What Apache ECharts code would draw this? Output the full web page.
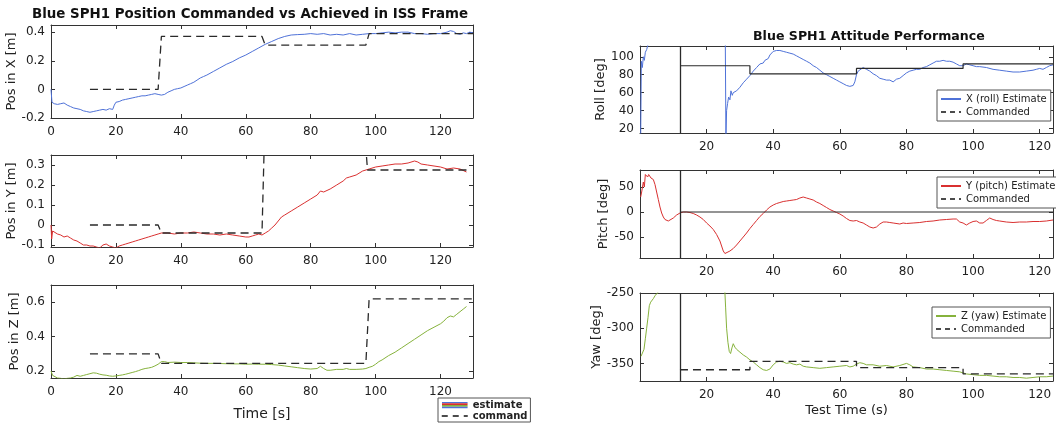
<!DOCTYPE html>
<html><head><meta charset="utf-8">
<script src="https://cdn.jsdelivr.net/npm/echarts@6/dist/echarts.min.js"></script>
<style>html,body{margin:0;padding:0;background:#fff}#c{width:1056px;height:426px}</style>
</head><body><div id="c"></div>
<script>
// ---------------- DATA ----------------
const leftTitle = 'Blue SPH1 Position Commanded vs Achieved in ISS Frame';
const rightTitle = 'Blue SPH1 Attitude Performance';
const timeTicksLeft = [0, 20, 40, 60, 80, 100, 120];
const timeTicksRight = [20, 40, 60, 80, 100, 120];
const posXTicks = [-0.2, 0, 0.2, 0.4];
const posYTicks = [-0.1, 0, 0.1, 0.2, 0.3];
const posZTicks = [0.2, 0.4, 0.6];
const rollTicks = [20, 40, 60, 80, 100];
const pitchTicks = [-50, 0, 50];
const yawTicks = [-350, -300, -250];
const testStart = 12;

// position estimates [time s, metres]
const estX = [[0,0.0],[0.3,-0.09],[1,-0.1],[2,-0.105],[3,-0.1],[4,-0.095],[5,-0.11],[6,-0.12],[7,-0.13],[8,-0.135],[9,-0.14],[10,-0.15],[11,-0.155],[12,-0.16],[13,-0.155],[14,-0.15],[15,-0.145],[16,-0.14],[17,-0.145],[18,-0.135],[19,-0.14],[19.5,-0.11],[20,-0.09],[21,-0.085],[22,-0.075],[23,-0.07],[24,-0.065],[25,-0.06],[26,-0.055],[27,-0.05],[28,-0.045],[29,-0.045],[30,-0.04],[31,-0.035],[32,-0.03],[33,-0.035],[34,-0.04],[35,-0.035],[36,-0.02],[37,-0.01],[38,0.0],[39,0.005],[40,0.01],[41,0.02],[42,0.03],[43,0.04],[44,0.05],[45,0.065],[46,0.08],[47,0.09],[48,0.1],[50,0.125],[52,0.15],[54,0.175],[56,0.195],[58,0.22],[60,0.24],[62,0.265],[64,0.29],[66,0.315],[68,0.335],[70,0.355],[72,0.37],[74,0.38],[76,0.383],[78,0.385],[80,0.39],[82,0.385],[84,0.39],[86,0.38],[88,0.385],[90,0.38],[92,0.39],[94,0.38],[96,0.385],[98,0.39],[100,0.39],[102,0.395],[104,0.4],[106,0.395],[108,0.4],[110,0.4],[112,0.39],[114,0.39],[116,0.385],[118,0.39],[120,0.39],[122,0.4],[123,0.41],[124,0.405],[125,0.39],[126,0.385],[127,0.395],[128,0.39],[129,0.4],[130,0.395]];
const cmdX = [[12,0],[33,0],[34,0.37],[65,0.37],[66,0.31],[97,0.31],[98,0.39],[130,0.39]];

const estY = [[0,0.0],[0.2,-0.07],[0.5,-0.03],[1,-0.04],[2,-0.045],[3,-0.05],[4,-0.06],[5,-0.055],[6,-0.065],[7,-0.075],[8,-0.08],[9,-0.09],[10,-0.1],[11,-0.1],[12,-0.105],[13,-0.105],[14,-0.11],[15,-0.115],[16,-0.1],[17,-0.095],[18,-0.105],[19,-0.11],[20,-0.115],[21,-0.105],[22,-0.1],[23,-0.095],[24,-0.09],[25,-0.085],[26,-0.08],[27,-0.075],[28,-0.07],[29,-0.065],[30,-0.06],[31,-0.055],[32,-0.05],[33,-0.045],[34,-0.04],[36,-0.04],[38,-0.045],[40,-0.04],[42,-0.04],[44,-0.035],[46,-0.04],[48,-0.045],[50,-0.045],[52,-0.05],[54,-0.045],[56,-0.05],[58,-0.055],[60,-0.06],[61,-0.06],[62,-0.055],[63,-0.05],[64,-0.045],[65,-0.05],[66,-0.04],[67,-0.03],[68,-0.015],[69,0.0],[70,0.02],[71,0.04],[72,0.05],[74,0.07],[76,0.09],[78,0.11],[80,0.13],[82,0.15],[83,0.17],[84,0.165],[86,0.18],[88,0.2],[90,0.22],[91,0.235],[92,0.24],[94,0.25],[96,0.27],[98,0.28],[100,0.29],[102,0.295],[104,0.3],[106,0.305],[108,0.305],[110,0.31],[112,0.32],[113,0.315],[114,0.305],[116,0.3],[118,0.295],[120,0.29],[122,0.28],[124,0.285],[126,0.28],[128,0.265]];
const cmdY = [[12,0],[33,0],[34,-0.04],[65,-0.04],[66,0.6],[96,0.6],[97.5,0.275],[128,0.275]];

const estZ = [[0,0.2],[0.5,0.175],[1,0.165],[2,0.16],[3,0.158],[4,0.155],[5,0.158],[6,0.16],[7,0.165],[8,0.175],[9,0.17],[10,0.175],[11,0.18],[12,0.185],[13,0.19],[14,0.188],[15,0.182],[16,0.178],[17,0.176],[18,0.172],[19,0.17],[20,0.172],[21,0.175],[22,0.178],[23,0.182],[24,0.187],[25,0.192],[26,0.197],[27,0.203],[28,0.21],[29,0.215],[30,0.218],[31,0.222],[32,0.23],[33,0.24],[34,0.255],[35,0.255],[36,0.25],[38,0.252],[40,0.25],[42,0.25],[44,0.248],[46,0.246],[48,0.245],[50,0.245],[52,0.244],[54,0.243],[56,0.242],[58,0.242],[60,0.24],[62,0.241],[64,0.24],[66,0.24],[68,0.238],[70,0.235],[72,0.23],[74,0.225],[76,0.22],[78,0.215],[80,0.212],[82,0.215],[83,0.228],[84,0.215],[85,0.205],[86,0.205],[88,0.21],[90,0.21],[91,0.215],[92,0.21],[94,0.21],[96,0.212],[97,0.215],[98,0.222],[99,0.228],[100,0.24],[101,0.255],[102,0.265],[104,0.29],[106,0.31],[108,0.335],[110,0.36],[112,0.385],[114,0.41],[116,0.435],[118,0.455],[120,0.475],[121,0.49],[122,0.51],[123,0.52],[124,0.515],[125,0.53],[126,0.545],[127,0.56],[128,0.575],[128.5,0.58]];
const cmdZ = [[12,0.3],[33,0.3],[34,0.245],[97,0.245],[98,0.62],[130,0.62]];

// attitude estimates [test time s, degrees]
const estRoll = [[0.2,10],[0.4,95],[0.7,88],[1.0,100],[1.3,96],[1.6,105],[2.0,108],[2.5,115],null,[25.6,125],[25.8,10],[26.0,40],[26.3,48],[26.6,55],[27,52],[27.3,62],[27.7,57],[28,60],[28.5,58],[29,62],[30,66],[31,71],[32,75],[33,79],[34,84],[35,88],[36,92],[37,93],[37.5,96],[38,94],[38.5,98],[39,102],[40,106],[41,107],[42,107],[43,106],[44,105],[45,104],[46,103],[47,101],[48,99],[49,97],[50,95],[51,93],[52,90],[53,88],[54,85],[55,82],[56,80],[57,78],[58,76],[59,74],[60,72],[61,70],[62,68],[62.5,69],[63,67],[64,68],[64.5,72],[65,80],[65.5,84],[66,86],[67,88],[68,86],[69,84],[70,81],[71,79],[72,76],[73,75],[74,74],[75,74],[76,72],[77,75],[78,76],[79,79],[80,82],[81,84],[82,85],[83,86],[84,86],[85,88],[86,89],[87,91],[88,93],[89,95],[90,95],[91,96],[92,95],[93,95],[94,94],[95,92],[96,90],[97,90],[98,92],[99,91],[100,90],[101,89],[102,89],[104,88],[106,86],[108,85],[110,84],[112,83],[114,83],[116,84],[118,85],[119,86],[120,87],[121,86],[122,88],[123,90],[124,91]];
const cmdRoll = [[12,90],[33,90],[33,81],[65,81],[65,87],[97,87],[97,92],[124,92]];

const estPitch = [[0.2,30],[0.5,40],[1,60],[1.3,50],[1.6,75],[2,78],[2.3,70],[2.6,75],[3,72],[3.3,68],[3.6,72],[4,65],[4.5,55],[5,40],[5.5,25],[6,10],[6.5,-2],[7,-10],[7.5,-15],[8,-18],[8.5,-18],[9,-16],[10,-12],[11,-6],[12,-2],[13,0],[14,0],[15,-1],[16,-3],[17,-6],[18,-10],[19,-15],[20,-22],[21,-28],[22,-35],[23,-45],[24,-58],[24.5,-68],[25,-78],[25.5,-83],[26,-82],[27,-78],[28,-73],[29,-66],[30,-58],[31,-50],[32,-42],[33,-33],[34,-25],[35,-17],[36,-9],[37,-3],[38,4],[39,10],[40,14],[41,17],[42,19],[43,21],[44,22],[45,23],[46,24],[47,25],[48,28],[49,30],[50,28],[51,26],[52,24],[53,20],[54,17],[55,13],[56,9],[57,5],[58,2],[59,-1],[60,-4],[61,-8],[62,-13],[63,-17],[64,-18],[65,-17],[66,-20],[67,-22],[68,-26],[69,-30],[70,-32],[71,-30],[72,-24],[73,-20],[74,-20],[75,-21],[76,-22],[78,-24],[79,-22],[80,-23],[82,-22],[84,-21],[86,-19],[88,-18],[90,-16],[92,-15],[94,-14],[95,-14],[96,-20],[97,-22],[98,-26],[99,-22],[100,-19],[101,-18],[102,-22],[103,-22],[104,-17],[105,-12],[106,-15],[107,-17],[108,-18],[110,-20],[112,-21],[114,-20],[116,-20],[118,-19],[120,-19],[122,-18],[124,-16]];
const cmdPitch = [[12,0],[124,0]];

const estYaw = [[0.3,-340],[0.8,-338],[1.2,-330],[1.6,-315],[2,-300],[2.4,-285],[2.8,-268],[3.2,-263],[3.6,-262],[4,-258],[4.5,-254],[5,-251],[5.5,-249],null,[25.4,-240],[25.7,-270],[26,-300],[26.4,-320],[26.8,-333],[27.2,-336],[27.6,-328],[28,-322],[28.5,-327],[29,-330],[30,-334],[31,-338],[32,-341],[33,-345],[34,-348],[35,-352],[36,-356],[37,-359],[38,-360],[39,-358],[40,-352],[41,-348],[42,-347],[43,-348],[44,-350],[45,-349],[46,-351],[47,-352],[48,-351],[49,-354],[50,-355],[52,-356],[54,-357],[56,-356],[58,-355],[60,-354],[62,-353],[63,-355],[64,-354],[65,-351],[66,-349],[67,-350],[68,-352],[70,-352],[72,-354],[74,-353],[76,-355],[78,-353],[80,-350],[81,-352],[82,-355],[84,-356],[86,-358],[88,-358],[90,-359],[92,-360],[94,-361],[96,-362],[98,-365],[100,-366],[102,-367],[104,-367],[106,-368],[108,-369],[110,-369],[112,-370],[114,-370],[116,-371],[118,-370],[120,-369],[122,-369],[124,-368]];
const cmdYaw = [[12,-359],[33,-359],[33,-347],[65,-347],[65,-356],[97,-356],[97,-365],[124,-365]];

// ---------------- STYLE / LAYOUT ----------------
const FONT = 'DejaVu Sans';
const BLUE = '#4f72d8', RED = '#d93030', GREEN = '#86b23c', CMD = '#2a2a2a', AX = '#333';

const panels = [
  {grid:{left:51, top:25, width:422, height:93}, xr:[0,130], yr:[-0.2,0.45], xt:timeTicksLeft, yt:posXTicks, yname:'Pos in X [m]', ygap:30},
  {grid:{left:51, top:155, width:422, height:92}, xr:[0,130], yr:[-0.11,0.35], xt:timeTicksLeft, yt:posYTicks, yname:'Pos in Y [m]', ygap:30},
  {grid:{left:51, top:285, width:422, height:93}, xr:[0,130], yr:[0.16,0.7], xt:timeTicksLeft, yt:posZTicks, yname:'Pos in Z [m]', ygap:30, xname:'Time [s]', xgap:29},
  {grid:{left:640, top:46, width:413, height:87}, xr:[0,124], yr:[15,112], xt:timeTicksRight, yt:rollTicks, yname:'Roll [deg]', ygap:26},
  {grid:{left:640, top:170, width:413, height:88}, xr:[0,124], yr:[-92,84], xt:timeTicksRight, yt:pitchTicks, yname:'Pitch [deg]', ygap:26},
  {grid:{left:640, top:293, width:413, height:88}, xr:[0,124], yr:[-375,-250], xt:timeTicksRight, yt:yawTicks, yname:'Yaw [deg]', ygap:31, xname:'Test Time (s)', xgap:23}
];

const grids = [], xAxes = [], yAxes = [];
panels.forEach((p, i) => {
  grids.push(Object.assign({show:false}, p.grid));
  const line = {show:true, onZero:false, lineStyle:{color:AX, width:1}};
  const tick = (vals) => ({show:true, inside:true, length:4, customValues:vals, lineStyle:{color:AX}});
  const lab = (vals, show) => ({show, customValues:vals, fontFamily:FONT, fontSize:12, color:'#222', margin:6});
  xAxes.push({type:'value', gridIndex:i, position:'bottom', min:p.xr[0], max:p.xr[1],
    axisLine:line, axisTick:tick(p.xt), axisLabel:Object.assign(lab(p.xt,true),{margin:8}), splitLine:{show:false},
    name:p.xname||'', nameLocation:'middle', nameGap:p.xgap||26,
    nameTextStyle:{fontFamily:FONT, fontSize:i===2?14:13, color:'#222'}});
  xAxes.push({type:'value', gridIndex:i, position:'top', min:p.xr[0], max:p.xr[1],
    axisLine:line, axisTick:tick(p.xt), axisLabel:{show:false}, splitLine:{show:false}});
  yAxes.push({type:'value', gridIndex:i, position:'left', min:p.yr[0], max:p.yr[1],
    axisLine:line, axisTick:tick(p.yt), axisLabel:lab(p.yt,true), splitLine:{show:false},
    name:p.yname, nameLocation:'middle', nameGap:p.ygap,
    nameTextStyle:{fontFamily:FONT, fontSize:13, color:'#222'}});
  yAxes.push({type:'value', gridIndex:i, position:'right', min:p.yr[0], max:p.yr[1],
    axisLine:line, axisTick:tick(p.yt), axisLabel:{show:false}, splitLine:{show:false}});
});

function ser(name, data, gi, color, dashed, width, extra) {
  return Object.assign({type:'line', name, data, xAxisIndex:gi*2, yAxisIndex:gi*2,
    symbol:'none', showSymbol:false, connectNulls:false, animation:false, clip:true,
    lineStyle:{color, width:width||1, type:dashed?[8,5]:'solid'}, itemStyle:{color}, z:dashed?3:2}, extra||{});
}
const startMark = {markLine:{silent:true, symbol:'none', animation:false, label:{show:false},
  lineStyle:{color:CMD, type:'solid', width:1.3}, data:[{xAxis:testStart}]}};

const series = [
  ser('estimate', estX, 0, BLUE),
  ser('command', cmdX, 0, CMD, true, 1.3),
  ser('estimate Y', estY, 1, RED),
  ser('command Y', cmdY, 1, CMD, true, 1.3),
  ser('estimate Z', estZ, 2, GREEN),
  ser('command Z', cmdZ, 2, CMD, true, 1.3),
  ser('X (roll) Estimate', estRoll, 3, BLUE),
  ser('Commanded', cmdRoll, 3, CMD, false, 1.2, startMark),
  ser('Y (pitch) Estimate', estPitch, 4, RED),
  ser('Commanded', cmdPitch, 4, CMD, false, 1.2, startMark),
  ser('Z (yaw) Estimate', estYaw, 5, GREEN),
  ser('Commanded', cmdYaw, 5, CMD, true, 1.3, startMark)
];

const stripeSvg = '<svg xmlns="http://www.w3.org/2000/svg" width="30" height="8"><rect x="0" y="0" width="30" height="2" fill="#4f72d8"/><rect x="0" y="2" width="30" height="2" fill="#d93030"/><rect x="0" y="4" width="30" height="2" fill="#86b23c"/><rect x="0" y="6" width="30" height="2" fill="#4f72d8"/></svg>';
const stripeIcon = 'image://data:image/svg+xml;base64,' + btoa(stripeSvg);

const noSym = {opacity:0};
const legBase = {orient:'vertical', backgroundColor:'#fff', borderColor:'#555', borderWidth:1, borderRadius:0,
  selectedMode:false, itemGap:3, itemWidth:20, itemHeight:8,
  textStyle:{fontFamily:FONT, fontSize:10, color:'#222'}};
const dashedCmd = {name:'Commanded', itemStyle:noSym, lineStyle:{type:[5,4], color:'#111', width:1.5}};
const legends = [
  Object.assign({}, legBase, {left:438, top:398, padding:[2,3,1,3], itemGap:1, itemWidth:26, itemHeight:7,
    textStyle:{fontFamily:FONT, fontSize:10, fontWeight:'bold', color:'#222'},
    data:[{name:'estimate', icon:stripeIcon}, {name:'command', itemStyle:noSym, lineStyle:{type:[6,5], color:'#111', width:1.5}}]}),
  Object.assign({}, legBase, {left:937, top:90, padding:[4,4,4,3], data:[{name:'X (roll) Estimate', itemStyle:noSym}, dashedCmd]}),
  Object.assign({}, legBase, {left:937, top:177, padding:[4,4,4,3], data:[{name:'Y (pitch) Estimate', itemStyle:noSym}, dashedCmd]}),
  Object.assign({}, legBase, {left:932, top:307, padding:[4,4,4,3], data:[{name:'Z (yaw) Estimate', itemStyle:noSym}, dashedCmd]})
];

const chart = echarts.init(document.getElementById('c'), null, {renderer:'canvas'});
chart.setOption({
  animation:false,
  backgroundColor:'#fff',
  title:[
    {text:leftTitle, left:32, top:8, padding:0, textStyle:{fontFamily:FONT, fontSize:13.4, fontWeight:'bold', color:'#111'}},
    {text:rightTitle, left:753, top:30, padding:0, textStyle:{fontFamily:FONT, fontSize:12.6, fontWeight:'bold', color:'#111'}}
  ],
  grid:grids, xAxis:xAxes, yAxis:yAxes, legend:legends, series
});
</script></body></html>
